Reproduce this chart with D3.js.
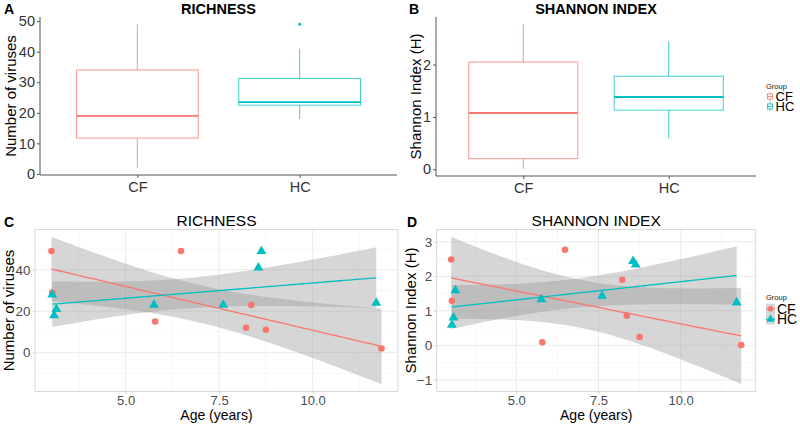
<!DOCTYPE html>
<html><head><meta charset="utf-8">
<script src="https://cdn.jsdelivr.net/npm/d3@7"></script>
<style>
body{margin:0;background:#fff;}
svg{font-family:"Liberation Sans",Arial,Helvetica,sans-serif;}
</style></head>
<body><svg id="c" width="800" height="425"></svg>
<script>
// ---- data ----
const groups = ["CF", "HC"];
const colors = ["#F8766D", "#00BFC4"];
const ageCF = [3.02, 3.04, 5.79, 6.48, 8.22, 8.36, 8.75, 11.84];
const ageHC = [3.04, 3.09, 3.15, 5.76, 7.61, 8.55, 8.63, 11.70];
const richCF = [49, 29, 15, 49, 12, 23, 11, 2];
const richHC = [28, 18, 21, 23, 23, 41, 49, 24];
const shanCF = [2.49, 1.29, 0.09, 2.77, 1.90, 0.86, 0.24, 0.01];
const shanHC = [0.59, 0.80, 1.59, 1.33, 1.43, 2.44, 2.34, 1.24];
const richTicks = [0, 10, 20, 30, 40, 50];
const shanTicks = [0, 1, 2];
const richTicksC = [0, 20, 40];
const shanTicksD = [-1, 0, 1, 2, 3];
const ageTicks = [5.0, 7.5, 10.0];
const CI_MULT = 1.96; // confidence band multiplier

const svg = d3.select("#c");
const FONT = '"Liberation Sans",Arial,Helvetica,sans-serif';

function expand(lo, hi, f = 0.05) { const r = hi - lo; return [lo - r * f, hi + r * f]; }

function boxStats(v) {
  const s = v.slice().sort(d3.ascending);
  const q1 = d3.quantile(s, 0.25), med = d3.quantile(s, 0.5), q3 = d3.quantile(s, 0.75);
  const iqr = q3 - q1;
  const inside = s.filter(d => d >= q1 - 1.5 * iqr && d <= q3 + 1.5 * iqr);
  return { q1, med, q3, lo: d3.min(inside), hi: d3.max(inside),
           out: s.filter(d => d < q1 - 1.5 * iqr || d > q3 + 1.5 * iqr) };
}

function boxPanel(o) {
  const { L, R, T, B, data, ticks, title, letter, ylab, letterX, ylabX } = o;
  const all = data.flat();
  const y = d3.scaleLinear().domain(expand(d3.min(all), d3.max(all))).range([B, T]);
  const x = d3.scaleLinear().domain([0.4, 2.6]).range([L, R]);
  const g = svg.append("g");
  const ya = g.append("g").attr("transform", `translate(${L},0)`)
    .call(d3.axisLeft(y).tickValues(ticks).tickSize(3).tickPadding(2).tickFormat(d3.format("d")));
  const xa = g.append("g").attr("transform", `translate(0,${B})`)
    .call(d3.axisBottom(x).tickValues([1, 2]).tickSize(3).tickPadding(4).tickFormat((d, i) => groups[i]));
  [ya, xa].forEach(a => {
    a.select(".domain").attr("stroke", "#555").attr("stroke-width", 1);
    a.selectAll(".tick line").attr("stroke", "#555");
    a.selectAll("text").attr("fill", "#333").attr("font-size", 14.5).attr("font-family", FONT);
  });
  ya.select(".domain").attr("d", `M0,${B}V${T}`);
  xa.select(".domain").attr("d", `M${L},0H${R}`);
  data.forEach((v, i) => {
    const s = boxStats(v), c = colors[i], cx = x(i + 1), hw = (x(1.375) - x(1));
    g.append("line").attr("x1", cx).attr("x2", cx).attr("y1", y(s.hi)).attr("y2", y(s.q3))
      .attr("stroke", c).attr("stroke-width", 1).attr("opacity", 0.75);
    g.append("line").attr("x1", cx).attr("x2", cx).attr("y1", y(s.q1)).attr("y2", y(s.lo))
      .attr("stroke", c).attr("stroke-width", 1).attr("opacity", 0.75);
    g.append("rect").attr("x", cx - hw).attr("width", 2 * hw).attr("y", y(s.q3)).attr("height", y(s.q1) - y(s.q3))
      .attr("fill", "none").attr("stroke", c).attr("stroke-width", 1).attr("opacity", 0.75);
    g.append("line").attr("x1", cx - hw).attr("x2", cx + hw).attr("y1", y(s.med)).attr("y2", y(s.med))
      .attr("stroke", c).attr("stroke-width", 1.8);
    s.out.forEach(d => g.append("circle").attr("cx", cx).attr("cy", y(d)).attr("r", 1.5).attr("fill", c));
  });
  g.append("text").attr("x", (L + R) / 2).attr("y", 13.5).attr("text-anchor", "middle")
    .attr("font-weight", "bold").attr("font-size", 14.5).text(title);
  g.append("text").attr("x", letterX).attr("y", 13.5).attr("font-weight", "bold").attr("font-size", 14).text(letter);
  g.append("text").attr("transform", `translate(${ylabX},${(T + B) / 2}) rotate(-90)`)
    .attr("text-anchor", "middle").attr("dy", "0.35em").attr("font-size", 15).text(ylab);
}

function fit(xs, ys) {
  const n = xs.length, mx = d3.mean(xs), my = d3.mean(ys);
  const sxx = d3.sum(xs, d => (d - mx) ** 2);
  const sxy = d3.sum(xs.map((d, i) => (d - mx) * (ys[i] - my)));
  const b = sxy / sxx, a = my - b * mx;
  const rss = d3.sum(xs.map((d, i) => (ys[i] - a - b * d) ** 2));
  const s = Math.sqrt(rss / (n - 2));
  const lo = d3.min(xs), hi = d3.max(xs);
  return d3.range(81).map(k => {
    const xv = lo + (hi - lo) * k / 80, yh = a + b * xv;
    const se = s * Math.sqrt(1 / n + (xv - mx) ** 2 / sxx);
    return { x: xv, y: yh, ymin: yh - CI_MULT * se, ymax: yh + CI_MULT * se };
  });
}

function scatterPanel(o) {
  const { L, R, T, B, ys, yticks, title, letter, ylab, letterX, ylabX, fmt } = o;
  const ages = [ageCF, ageHC];
  const fits = ages.map((a, i) => fit(a, ys[i]));
  const yAll = ys.flat().concat(fits.flat().map(d => d.ymin), fits.flat().map(d => d.ymax));
  const x = d3.scaleLinear().domain(expand(d3.min(ages.flat()), d3.max(ages.flat()))).range([L, R]);
  const y = d3.scaleLinear().domain(expand(d3.min(yAll), d3.max(yAll))).range([B, T]);
  const g = svg.append("g");
  const yd = y.domain();
  const yStep = yticks[1] - yticks[0];
  const yMinor = d3.range(Math.ceil(yd[0] / (yStep / 2)), Math.floor(yd[1] / (yStep / 2)) + 1)
    .map(k => k * yStep / 2).filter(v => !yticks.some(t => Math.abs(t - v) < 1e-9));
  const xMinor = [3.75, 6.25, 8.75, 11.25];
  g.selectAll(".ymn").data(yMinor).join("line").attr("x1", L).attr("x2", R)
    .attr("y1", d => y(d)).attr("y2", d => y(d)).attr("stroke", "#f4f4f4").attr("stroke-width", 0.6);
  g.selectAll(".xmn").data(xMinor).join("line").attr("y1", T).attr("y2", B)
    .attr("x1", d => x(d)).attr("x2", d => x(d)).attr("stroke", "#f4f4f4").attr("stroke-width", 0.6);
  g.selectAll(".ymj").data(yticks).join("line").attr("x1", L).attr("x2", R)
    .attr("y1", d => y(d)).attr("y2", d => y(d)).attr("stroke", "#ebebeb").attr("stroke-width", 1);
  g.selectAll(".xmj").data(ageTicks).join("line").attr("y1", T).attr("y2", B)
    .attr("x1", d => x(d)).attr("x2", d => x(d)).attr("stroke", "#ebebeb").attr("stroke-width", 1);
  const area = d3.area().x(d => x(d.x)).y0(d => y(d.ymin)).y1(d => y(d.ymax));
  fits.forEach(f => g.append("path").attr("d", area(f)).attr("fill", "#999999").attr("fill-opacity", 0.4));
  const line = d3.line().x(d => x(d.x)).y(d => y(d.y));
  fits.forEach((f, i) => g.append("path").attr("d", line(f)).attr("fill", "none")
    .attr("stroke", colors[i]).attr("stroke-width", 1.3));
  const tri = d3.symbol().type(d3.symbolTriangle).size(42);
  ages.forEach((a, i) => a.forEach((ag, j) => {
    if (i === 0) g.append("circle").attr("cx", x(ag)).attr("cy", y(ys[i][j])).attr("r", 3.3).attr("fill", colors[i]);
    else g.append("path").attr("d", tri()).attr("transform", `translate(${x(ag)},${y(ys[i][j])})`).attr("fill", colors[i]);
  }));
  g.append("rect").attr("x", L).attr("y", T).attr("width", R - L).attr("height", B - T)
    .attr("fill", "none").attr("stroke", "#d9d9d9").attr("stroke-width", 1);
  const ya = g.append("g").attr("transform", `translate(${L},0)`)
    .call(d3.axisLeft(y).tickValues(yticks).tickSize(2.5).tickPadding(2).tickFormat(fmt));
  const xa = g.append("g").attr("transform", `translate(0,${B})`)
    .call(d3.axisBottom(x).tickValues(ageTicks).tickSize(2.5).tickPadding(2).tickFormat(d3.format(".1f")));
  [ya, xa].forEach(a => {
    a.select(".domain").remove();
    a.selectAll(".tick line").attr("stroke", "#d0d0d0");
    a.selectAll("text").attr("fill", "#4d4d4d").attr("font-size", 13.5).attr("font-family", FONT);
  });
  xa.selectAll("text").attr("font-size", 13);
  g.append("text").attr("x", (L + R) / 2).attr("y", 226).attr("text-anchor", "middle")
    .attr("font-size", 15.5).text(title);
  g.append("text").attr("x", letterX).attr("y", 227).attr("font-weight", "bold").attr("font-size", 14).text(letter);
  g.append("text").attr("transform", `translate(${ylabX},${(T + B) / 2}) rotate(-90)`)
    .attr("text-anchor", "middle").attr("dy", "0.35em").attr("font-size", 15).text(ylab);
  g.append("text").attr("x", (L + R) / 2).attr("y", 420).attr("text-anchor", "middle")
    .attr("font-size", 14).text("Age (years)");
}

boxPanel({ L: 40, R: 397, T: 17, B: 175, data: [richCF, richHC], ticks: richTicks,
  title: "RICHNESS", letter: "A", ylab: "Number of viruses", letterX: 4, ylabX: 11 });
boxPanel({ L: 436, R: 756, T: 17, B: 176, data: [shanCF, shanHC], ticks: shanTicks,
  title: "SHANNON INDEX", letter: "B", ylab: "Shannon Index (H)", letterX: 409, ylabX: 416 });
scatterPanel({ L: 35, R: 398, T: 229.5, B: 391.5, ys: [richCF, richHC], yticks: richTicksC,
  title: "RICHNESS", letter: "C", ylab: "Number of viruses", letterX: 4, ylabX: 8.5, fmt: d3.format("d") });
scatterPanel({ L: 436.7, R: 755.7, T: 229.5, B: 391.5, ys: [shanCF, shanHC], yticks: shanTicksD,
  title: "SHANNON INDEX", letter: "D", ylab: "Shannon Index (H)", letterX: 407, ylabX: 411, fmt: d3.format("d") });

// ---- legends ----
function legendBox() {
  const g = svg.append("g");
  g.append("text").attr("x", 766).attr("y", 89).attr("font-size", 7.5).attr("fill", "#222").text("Group");
  groups.forEach((k, i) => {
    const cy = 96.5 + i * 10, c = colors[i];
    g.append("line").attr("x1", 770).attr("x2", 770).attr("y1", cy - 4.5).attr("y2", cy + 4.5).attr("stroke", c).attr("stroke-width", 0.8);
    g.append("rect").attr("x", 767.5).attr("y", cy - 2.5).attr("width", 5).attr("height", 5).attr("fill", "#fff").attr("stroke", c).attr("stroke-width", 0.8);
    g.append("line").attr("x1", 767.5).attr("x2", 772.5).attr("y1", cy).attr("y2", cy).attr("stroke", c).attr("stroke-width", 0.8);
    g.append("text").attr("x", 775.5).attr("y", cy).attr("dy", "0.36em").attr("font-size", 13).text(k);
  });
}
function legendScatter() {
  const g = svg.append("g");
  g.append("text").attr("x", 766).attr("y", 300).attr("font-size", 7.5).attr("fill", "#222").text("Group");
  const tri = d3.symbol().type(d3.symbolTriangle).size(30);
  groups.forEach((k, i) => {
    const cy = 308.8 + i * 10.5, c = colors[i];
    g.append("rect").attr("x", 766).attr("y", cy - 5.2).attr("width", 9).attr("height", 10.4).attr("fill", "#999").attr("fill-opacity", 0.4);
    g.append("line").attr("x1", 766).attr("x2", 775).attr("y1", cy).attr("y2", cy).attr("stroke", c).attr("stroke-width", 1);
    if (i === 0) g.append("circle").attr("cx", 770.5).attr("cy", cy).attr("r", 2.8).attr("fill", c);
    else g.append("path").attr("d", tri()).attr("transform", `translate(770.5,${cy})`).attr("fill", c);
    g.append("text").attr("x", 777).attr("y", cy).attr("dy", "0.36em").attr("font-size", 14).text(k);
  });
}
legendBox();
legendScatter();
</script></body></html>
